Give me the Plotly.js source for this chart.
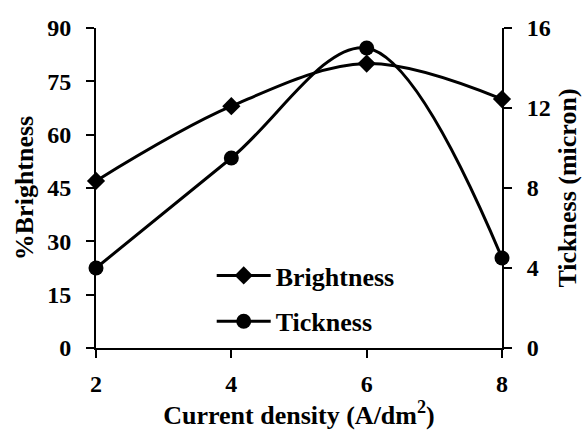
<!DOCTYPE html>
<html>
<head>
<meta charset="utf-8">
<script src="https://cdn.plot.ly/plotly-3.0.1.min.js"></script>
<style>html,body{margin:0;padding:0;background:#fff;}#chart{width:587px;height:430px;}</style>
</head>
<body>
<div id="chart"></div>
<script>
const currentDensity = [2, 4, 6, 8];
const brightness = [47, 68, 80, 70];
const tickness = [4, 9.5, 15, 4.5];
const xTicks = [2, 4, 6, 8];
const yLeftTicks = [0, 15, 30, 45, 60, 75, 90];
const yRightTicks = [0, 4, 8, 12, 16];

const fam = '"Liberation Serif", "Times New Roman", serif';
const tickFont = {family: fam, color: '#000', size: 24};
const titleFont = {family: fam, color: '#000', size: 26};
const boldify = v => '<b>' + v + '</b>';

const traces = [
  {
    x: currentDensity, y: brightness, name: '<b>Brightness</b>', type: 'scatter', mode: 'lines+markers',
    line: {color: '#000', width: 3, shape: 'spline', smoothing: 1},
    marker: {symbol: 'diamond', size: 14, color: '#000'},
    cliponaxis: false, legendgroup: 'a', yaxis: 'y'
  },
  {
    x: currentDensity, y: tickness, name: '<b>Tickness</b>', type: 'scatter', mode: 'lines+markers',
    line: {color: '#000', width: 3, shape: 'spline', smoothing: 1},
    marker: {symbol: 'circle', size: 15, color: '#000'},
    cliponaxis: false, legendgroup: 'b', yaxis: 'y2'
  }
];

const axisCommon = {
  showline: true, linecolor: '#000', linewidth: 2, ticks: 'outside', ticklen: 8, tickwidth: 2,
  tickcolor: '#000', showgrid: false, zeroline: false, tickfont: tickFont
};

const layout = {
  width: 587, height: 430,
  margin: {l: 96, r: 85, t: 28, b: 82},
  paper_bgcolor: '#fff', plot_bgcolor: '#fff',
  font: tickFont,
  showlegend: true,
  legend: {x: 0.285, y: 0.30, xanchor: 'left', yanchor: 'top', bgcolor: 'rgba(0,0,0,0)', itemwidth: 54,
           font: {family: fam, size: 26, color: '#000'}, tracegroupgap: 9, traceorder: 'grouped'},
  xaxis: Object.assign({}, axisCommon, {
    range: [2, 8], tickvals: xTicks, ticktext: xTicks.map(boldify), ticklabelstandoff: 5,
    title: {text: '<b>Current density (A/dm<sup>2</sup>)</b>', font: titleFont, standoff: 6}
  }),
  yaxis: Object.assign({}, axisCommon, {
    range: [0, 90], tickvals: yLeftTicks, ticktext: yLeftTicks.map(boldify), ticklabelstandoff: 10,
    title: {text: '<b>%Brightness</b>', font: titleFont, standoff: 6}
  }),
  yaxis2: Object.assign({}, axisCommon, {
    range: [0, 16], tickvals: yRightTicks, ticktext: yRightTicks.map(boldify), ticklabelstandoff: 10,
    overlaying: 'y', side: 'right',
    title: {text: '<b>Tickness (micron)</b>', font: titleFont, standoff: 8}
  })
};

Plotly.newPlot('chart', traces, layout, {displayModeBar: false, staticPlot: true});
</script>
</body>
</html>
